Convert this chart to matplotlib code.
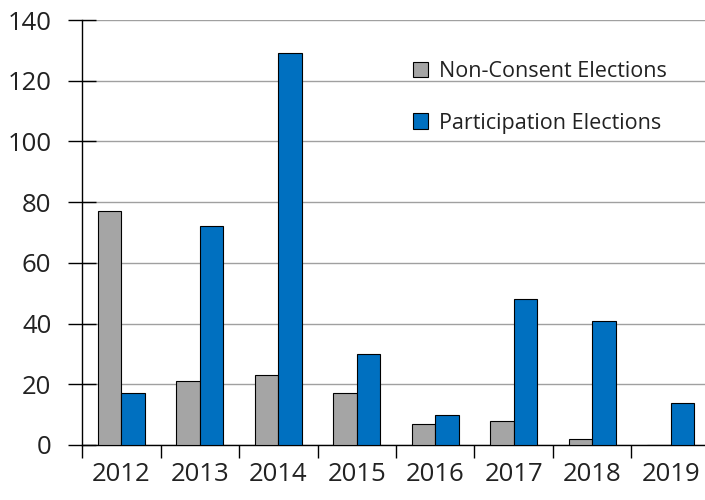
import numpy as np
import matplotlib
matplotlib.use("Agg")
import matplotlib.pyplot as plt

years = ["2012", "2013", "2014", "2015", "2016", "2017", "2018", "2019"]
non_consent = [77, 21, 23, 17, 7, 8, 2, 0]
participation = [17, 72, 129, 30, 10, 48, 41, 14]

plt.rcParams['font.family'] = ['Open Sans', 'DejaVu Sans']

fig = plt.figure(figsize=(7.05, 5), dpi=100)
ax = fig.add_axes([82/705, 55/500, 628/705, 425/500])

x = np.arange(len(years))
w = 0.3
ax.bar(x - w/2, non_consent, w, color='#a5a5a5', edgecolor='black', linewidth=0.8,
       label='Non-Consent Elections', zorder=3)
ax.bar(x + w/2, participation, w, color='#0070c0', edgecolor='black', linewidth=0.8,
       label='Participation Elections', zorder=3)

ax.set_xlim(-0.5, len(years) - 0.5)
ax.set_ylim(0, 140)
ax.set_yticks(range(0, 141, 20))
ax.yaxis.grid(True, color='#a0a0a0', linewidth=1.0, zorder=0)

# category boundary ticks, labels in between
ax.set_xticks(np.arange(len(years) + 1) - 0.5)
ax.set_xticklabels([])
ax.set_xticks(x, minor=True)
ax.set_xticklabels(years, minor=True)
ax.tick_params(axis='x', which='major', direction='out', length=9, width=1, color='black')
ax.tick_params(axis='x', which='minor', length=0, pad=12, labelsize=18.5, labelcolor='#222222')
ax.tick_params(axis='y', direction='inout', length=20, width=1, pad=12, labelsize=18.5,
               labelcolor='#222222')

for s in ['top', 'right']:
    ax.spines[s].set_visible(False)
ax.spines['left'].set_linewidth(1)
ax.spines['bottom'].set_linewidth(1)

leg = fig.legend(loc='upper left', bbox_to_anchor=(394/705, 1 - 42/500), frameon=False,
                 fontsize=15.5, handlelength=0.7, handleheight=0.7, handletextpad=0.5,
                 labelspacing=1.4, labelcolor='#222222')

fig.savefig('out.png', dpi=100)
